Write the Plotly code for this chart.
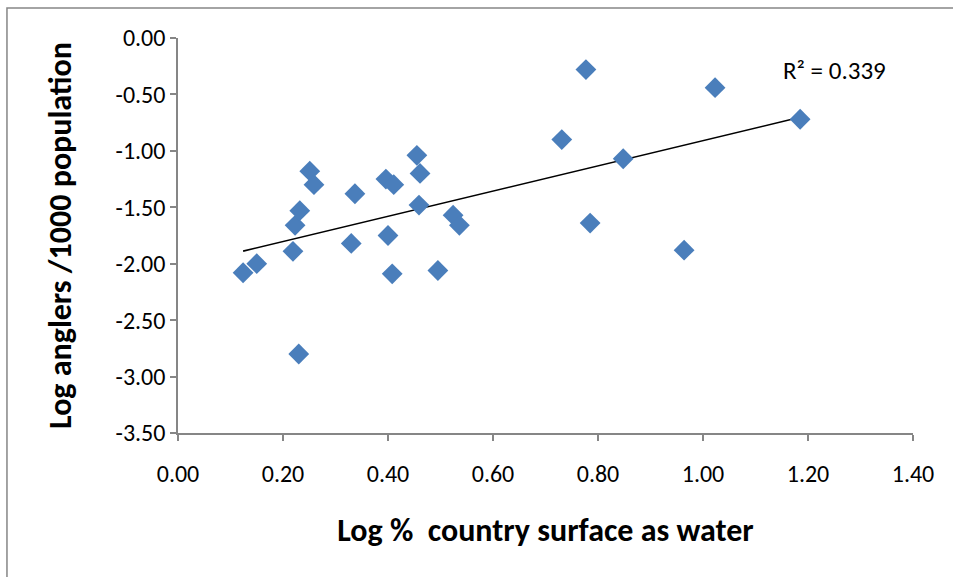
import numpy as np
import plotly.graph_objects as go

# Log % of country surface covered by water, per country
log_water = [0.124, 0.150, 0.219, 0.223, 0.232, 0.251, 0.259, 0.230,
             0.330, 0.337, 0.396, 0.411, 0.400, 0.408, 0.455, 0.461,
             0.459, 0.495, 0.524, 0.536, 0.731, 0.777, 0.785, 0.848,
             0.964, 1.023, 1.185]
# Log anglers per 1000 population, per country
log_anglers = [-2.08, -2.00, -1.89, -1.66, -1.53, -1.18, -1.30, -2.80,
               -1.82, -1.38, -1.25, -1.30, -1.75, -2.09, -1.04, -1.20,
               -1.48, -2.06, -1.57, -1.66, -0.90, -0.28, -1.64, -1.07,
               -1.88, -0.44, -0.72]

x_ticks = [0.0, 0.2, 0.4, 0.6, 0.8, 1.0, 1.2, 1.4]
y_ticks = [0.0, -0.5, -1.0, -1.5, -2.0, -2.5, -3.0, -3.5]
r_squared_label = "R² = 0.339"

FONT = "Carlito, 'Liberation Sans Narrow', 'Open Sans', sans-serif"
AXIS_GREY = "#868686"

# Least-squares trend line over the span of the data
xs = np.array(log_water)
ys = np.array(log_anglers)
slope, intercept = np.polyfit(xs, ys, 1)
trend_x = np.array([xs.min(), xs.max()])
trend_y = slope * trend_x + intercept

fig = go.Figure()
fig.add_trace(go.Scatter(
    x=trend_x, y=trend_y, mode="lines",
    line=dict(color="black", width=1.6),
    hoverinfo="skip", showlegend=False,
))
fig.add_trace(go.Scatter(
    x=log_water, y=log_anglers, mode="markers",
    marker=dict(symbol="diamond", size=16, color="#4A7EBB",
                line=dict(width=0)),
    showlegend=False,
))

fig.add_annotation(
    x=1.25, y=-0.285, xref="x", yref="y", text=r_squared_label,
    showarrow=False, xanchor="center", yanchor="middle",
    font=dict(family=FONT, size=25, color="black"),
)

# Outer chart border
fig.add_shape(type="rect", xref="paper", yref="paper",
              x0=-0.2327, x1=1.2, y0=-0.6, y1=1.076,
              line=dict(color=AXIS_GREY, width=1.5), layer="below")

fig.update_xaxes(
    range=[0, 1.4], tickvals=x_ticks,
    ticktext=[f"{v:.2f}" for v in x_ticks],
    showgrid=False, zeroline=False, automargin=False,
    showline=True, linecolor=AXIS_GREY, linewidth=1.5,
    ticks="outside", ticklen=6, tickcolor=AXIS_GREY, tickwidth=1.5,
    ticklabelstandoff=12,
    tickfont=dict(family=FONT, size=24, color="black"),
    title=dict(text="<b>Log %  country surface as water</b>",
               font=dict(family=FONT, size=32, color="black"),
               standoff=32),
)
fig.update_yaxes(
    range=[-3.5, 0], tickvals=y_ticks,
    ticktext=[f"{v:.2f}" for v in y_ticks],
    showgrid=False, zeroline=False, automargin=False,
    showline=True, linecolor=AXIS_GREY, linewidth=1.5,
    ticks="outside", ticklen=6, tickcolor=AXIS_GREY, tickwidth=1.5,
    tickfont=dict(family=FONT, size=24, color="black"),
    title=dict(text="<b>Log anglers /1000 population</b>",
               font=dict(family=FONT, size=32, color="black"),
               standoff=34),
)

fig.update_layout(
    width=953, height=577,
    margin=dict(l=178, r=40, t=38, b=144),
    paper_bgcolor="white", plot_bgcolor="white",
)

fig.write_html("out.html")
